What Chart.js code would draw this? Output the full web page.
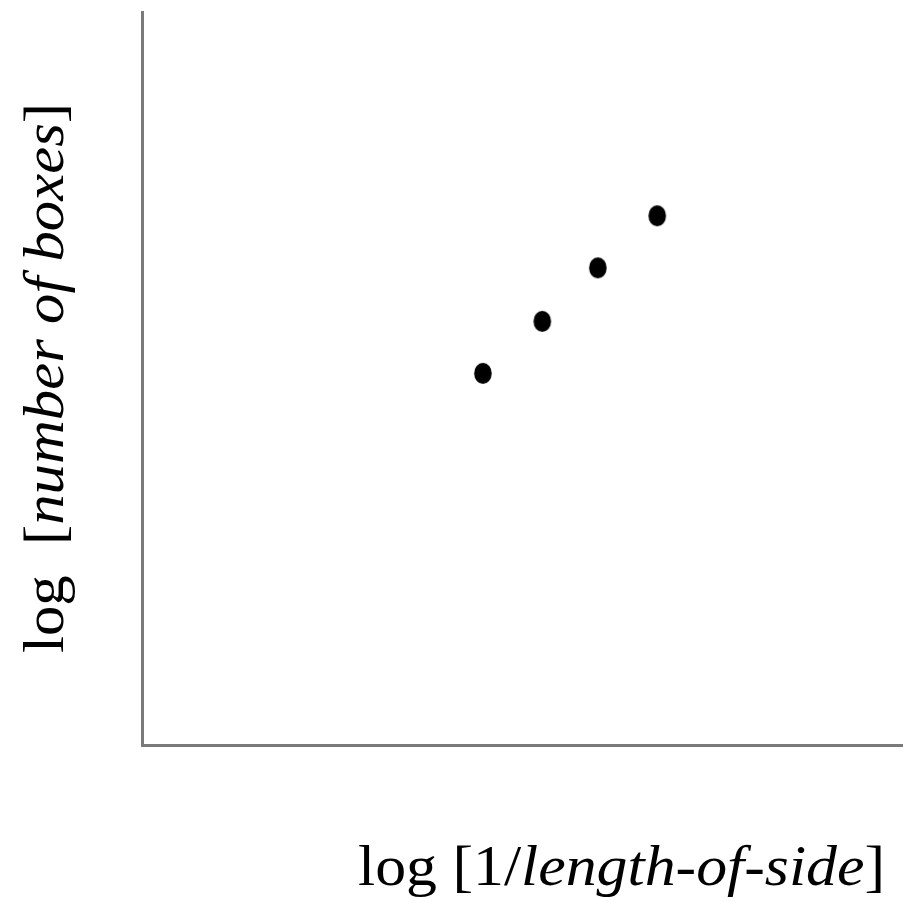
<!DOCTYPE html>
<html>
<head>
<meta charset="utf-8">
<script src="https://cdn.jsdelivr.net/npm/chart.js@4.4.1/dist/chart.umd.min.js"></script>
<style>
  html, body { margin: 0; padding: 0; background: #fff; }
  #wrap { width: 903px; height: 902px; position: relative; }
</style>
</head>
<body>
<div id="wrap"><canvas id="chart"></canvas></div>
<script>
// box-counting points: log(1/side) vs log(count)
const logInvSide = [4.48, 5.26, 5.99, 6.77];
const logBoxes = [5.07, 5.78, 6.51, 7.22];

// axis titles, split into upright / italic runs
const xTitleParts = [["log [1/", false], ["length-of-side", true], ["]", false]];
const yTitleParts = [["log  [", false], ["number of boxes", true], ["]", false]];

const FONT_SIZE = 56;
const FAMILY = "'Liberation Serif', 'Times New Roman', serif";

function drawParts(ctx, parts) {
  let x = 0;
  for (const [text, italic] of parts) {
    ctx.font = (italic ? "italic " : "") + FONT_SIZE + "px " + FAMILY;
    ctx.fillText(text, x, 0);
    x += ctx.measureText(text).width;
  }
  return x;
}

function partsWidth(ctx, parts) {
  let w = 0;
  for (const [text, italic] of parts) {
    ctx.font = (italic ? "italic " : "") + FONT_SIZE + "px " + FAMILY;
    w += ctx.measureText(text).width;
  }
  return w;
}

// draws a title between two points along its run, stretched a little to fill it
const titlesPlugin = {
  id: "mixedTitles",
  afterDraw(chart) {
    const ctx = chart.ctx;
    ctx.save();
    ctx.fillStyle = "#000";
    ctx.textBaseline = "alphabetic";
    ctx.textAlign = "left";

    const xw = partsWidth(ctx, xTitleParts);
    ctx.save();
    ctx.translate(358, 885);
    ctx.scale(527 / xw, 1);
    drawParts(ctx, xTitleParts);
    ctx.restore();

    const yw = partsWidth(ctx, yTitleParts);
    ctx.save();
    ctx.translate(63, 653);
    ctx.rotate(-Math.PI / 2);
    ctx.scale(550 / yw, 1);
    drawParts(ctx, yTitleParts);
    ctx.restore();

    ctx.restore();
  }
};

// slightly tall dot
function makeDot() {
  const c = document.createElement("canvas");
  c.width = 20;
  c.height = 23;
  const g = c.getContext("2d");
  g.fillStyle = "#000";
  g.beginPath();
  g.ellipse(10, 11.5, 8.8, 10.5, 0, 0, Math.PI * 2);
  g.fill();
  return c;
}

const points = logInvSide.map((x, i) => ({ x: x, y: logBoxes[i] }));

new Chart(document.getElementById("chart"), {
  type: "scatter",
  data: {
    datasets: [{
      data: points,
      backgroundColor: "#000",
      borderColor: "#000",
      pointStyle: makeDot(),
      pointRadius: 9,
      pointHoverRadius: 9,
    }],
  },
  options: {
    responsive: true,
    maintainAspectRatio: false,
    animation: false,
    layout: {
      autoPadding: false,
      padding: { left: 142, right: 0, top: 12, bottom: 157 },
    },
    plugins: {
      legend: { display: false },
      tooltip: { enabled: false },
    },
    scales: {
      x: {
        type: "linear",
        min: 0,
        max: 10,
        ticks: { display: false },
        grid: { display: false, drawTicks: false, tickLength: 0 },
        border: { display: true, color: "#7a7a7a", width: 3 },
      },
      y: {
        type: "linear",
        min: 0,
        max: 10,
        ticks: { display: false },
        grid: { display: false, drawTicks: false, tickLength: 0 },
        border: { display: true, color: "#7a7a7a", width: 3 },
      },
    },
  },
  plugins: [titlesPlugin],
});
</script>
</body>
</html>
